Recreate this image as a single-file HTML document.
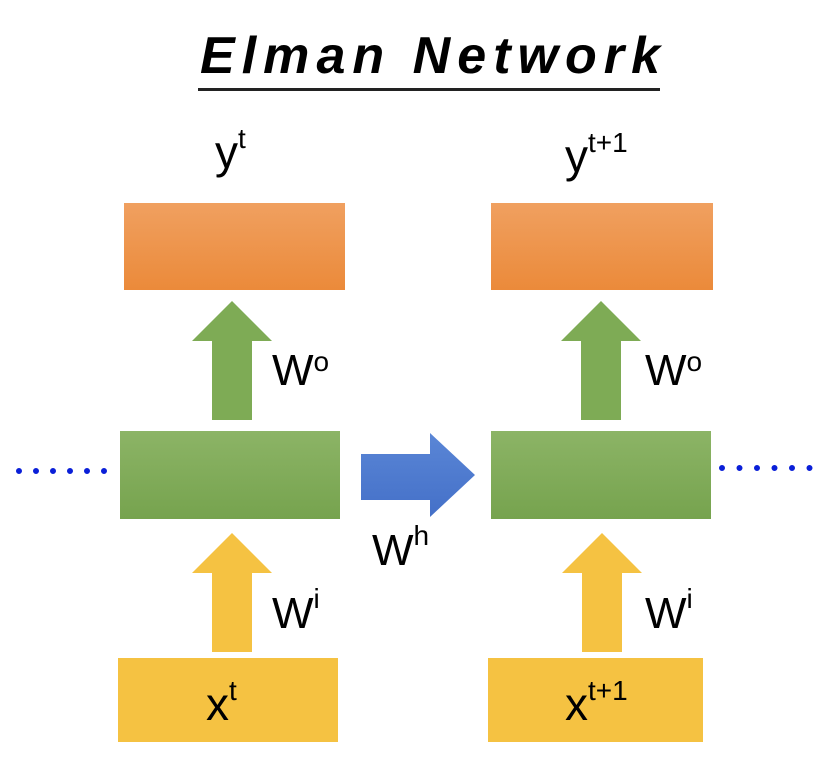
<!DOCTYPE html>
<html><head><meta charset="utf-8"><style>
html,body{margin:0;padding:0;background:#fff;width:830px;height:770px;overflow:hidden}
svg{display:block}
text{font-family:"Liberation Sans",sans-serif;fill:#000}
</style></head><body>
<svg width="830" height="770" viewBox="0 0 830 770" xmlns="http://www.w3.org/2000/svg">
<defs>
<linearGradient id="og" x1="0" y1="0" x2="0" y2="1"><stop offset="0" stop-color="#f0a060"/><stop offset="1" stop-color="#eb8a3a"/></linearGradient>
<linearGradient id="gg" x1="0" y1="0" x2="0" y2="1"><stop offset="0" stop-color="#8cb466"/><stop offset="1" stop-color="#76a34e"/></linearGradient>
<linearGradient id="bg" x1="0" y1="0" x2="0" y2="1"><stop offset="0" stop-color="#5a86d6"/><stop offset="1" stop-color="#4470c8"/></linearGradient>
</defs>
<text x="430" y="73" font-size="52" font-weight="bold" font-style="italic" text-anchor="middle" textLength="460">Elman Network</text>
<rect x="198" y="88" width="462" height="3" fill="#222"/>

<!-- top labels -->
<text x="215" y="168" font-size="46">y<tspan font-size="28" dy="-20">t</tspan></text>
<text x="565" y="172" font-size="46">y<tspan font-size="28" dy="-20">t+1</tspan></text>

<!-- orange boxes -->
<rect x="124" y="203" width="221" height="87" fill="url(#og)"/>
<rect x="491" y="203" width="222" height="87" fill="url(#og)"/>

<!-- green arrows -->
<polygon points="232,301 272,341 252,341 252,420 212,420 212,341 192,341" fill="#7eab55"/>
<polygon points="601,301 641,341 621,341 621,420 581,420 581,341 561,341" fill="#7eab55"/>
<text x="272" y="385" font-size="44">W<tspan font-size="28" dy="-14">o</tspan></text>
<text x="645" y="385" font-size="44">W<tspan font-size="28" dy="-14">o</tspan></text>

<!-- green boxes -->
<rect x="120" y="431" width="220" height="88" fill="url(#gg)"/>
<rect x="491" y="431" width="220" height="88" fill="url(#gg)"/>

<!-- blue arrow -->
<polygon points="361,454 430,454 430,433 475,475 430,517 430,500 361,500" fill="url(#bg)"/>
<text x="372" y="565" font-size="44">W<tspan font-size="28" dy="-20">h</tspan></text>

<!-- dots -->
<line x1="19" y1="471" x2="106" y2="471" stroke="#0a1fd8" stroke-width="6" stroke-linecap="round" stroke-dasharray="0 17"/>
<line x1="722" y1="468" x2="810" y2="468" stroke="#0a1fd8" stroke-width="6" stroke-linecap="round" stroke-dasharray="0 17.5"/>

<!-- yellow arrows -->
<polygon points="232,533 272,573 252,573 252,652 212,652 212,573 192,573" fill="#f5c242"/>
<polygon points="602,533 642,573 622,573 622,652 582,652 582,573 562,573" fill="#f5c242"/>
<text x="272" y="628" font-size="44">W<tspan font-size="28" dy="-20">i</tspan></text>
<text x="645" y="628" font-size="44">W<tspan font-size="28" dy="-20">i</tspan></text>

<!-- yellow boxes -->
<rect x="118" y="658" width="220" height="84" fill="#f5c242"/>
<rect x="488" y="658" width="215" height="84" fill="#f5c242"/>
<text x="206" y="720" font-size="46">x<tspan font-size="28" dy="-20">t</tspan></text>
<text x="565" y="720" font-size="46">x<tspan font-size="28" dy="-20">t+1</tspan></text>
</svg>
</body></html>
